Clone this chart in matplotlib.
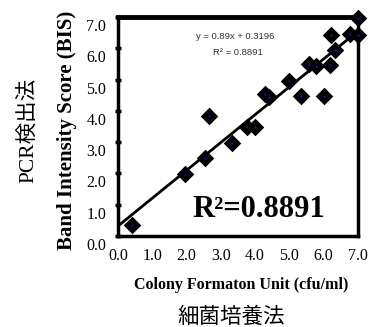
import numpy as np
import matplotlib
matplotlib.use("Agg")
import matplotlib.pyplot as plt
from matplotlib.transforms import ScaledTranslation

# colony counts (x) vs band intensity score (y)
cfu = [0.41, 1.96, 2.55, 2.66, 3.33, 3.76, 4.0, 4.28, 4.4, 5.0,
       5.34, 5.56, 5.78, 6.0, 6.21, 6.19, 6.32, 6.78, 7.0, 7.0]
bis = [0.35, 1.98, 2.48, 3.84, 2.96, 3.49, 3.49, 4.55, 4.45, 4.95,
       4.47, 5.49, 5.44, 4.47, 6.44, 5.46, 5.94, 6.47, 6.96, 6.44]

# linear trend as printed on the chart
slope = 0.89
intercept = 0.3196
r2 = 0.8891

ticks = [0, 1, 2, 3, 4, 5, 6, 7]
tick_labels = ['0.0', '1.0', '2.0', '3.0', '4.0', '5.0', '6.0', '7.0']

serif = ['Liberation Serif', 'DejaVu Serif']
jp = ['Liberation Serif', 'Noto Sans CJK JP']
sans = ['Liberation Sans', 'DejaVu Sans']

fig = plt.figure(figsize=(3.7, 3.27), dpi=100)
ax = fig.add_axes([118 / 370, 1 - 236 / 327, 240 / 370, 219 / 327])

xs = np.array([0, 7])
ax.plot(xs, slope * xs + intercept, color='black', lw=2.0, solid_capstyle='butt')

ax.plot(cfu, bis, linestyle='none', marker='D', ms=6.8, mfc='black', mec='black',
        mew=1.8, clip_on=False, zorder=3)
ax.plot(cfu, bis, linestyle='none', marker='o', ms=1.6, mfc='#1010d0', mec='none',
        clip_on=False, zorder=4)

ax.set_xlim(0, 7)
ax.set_ylim(0, 7)

ax.set_xticks(ticks)
ax.set_xticklabels(tick_labels, fontfamily=serif, fontsize=11.5)
ax.set_yticks(ticks)
ax.set_yticklabels(tick_labels, fontfamily=serif, fontsize=11.5)
ax.tick_params(axis='x', length=0, pad=9)
ax.tick_params(axis='y', direction='inout', length=5, width=2.5, pad=6)
ax.set_xticks([2, 4, 6], minor=True)
ax.tick_params(axis='x', which='minor', direction='in', length=4, width=2.5)

# y tick labels sit a little below their ticks in the original
off = ScaledTranslation(0, -8 / 100, fig.dpi_scale_trans)
for lab in ax.get_yticklabels():
    lab.set_transform(lab.get_transform() + off)

for s in ax.spines.values():
    s.set_linewidth(2.5)
ax.spines['top'].set_linewidth(3.5)

ax.text(0.49, 0.91, 'y = 0.89x + 0.3196', transform=ax.transAxes, ha='center',
        va='center', fontsize=6.8, fontfamily=sans, color='#333333')
ax.text(0.5, 0.84, 'R² = 0.8891', transform=ax.transAxes, ha='center',
        va='center', fontsize=6.8, fontfamily=sans, color='#333333')
ax.text(0.585, 0.12, 'R²=%.4f' % r2, transform=ax.transAxes, ha='center',
        va='center', fontsize=22, fontweight='bold', fontfamily=serif)

fig.text(241 / 370, 1 - 285 / 327, 'Colony Formaton Unit (cfu/ml)', ha='center',
         va='center', fontsize=11.5, fontweight='bold', fontfamily=serif)
fig.text(67 / 370, 1 - 130 / 327, 'Band Intensity Score (BIS)', ha='center',
         va='center', rotation=90, fontsize=15, fontweight='bold', fontfamily=serif)
fig.text(28 / 370, 1 - 130 / 327, 'PCR検出法', ha='center', va='center',
         rotation=90, fontsize=15.5, family=jp)
fig.text(231 / 370, 1 - 317 / 327, '細菌培養法', ha='center', va='center',
         fontsize=15.5, family=['Noto Sans CJK JP'])

fig.savefig('out.png', dpi=100)
